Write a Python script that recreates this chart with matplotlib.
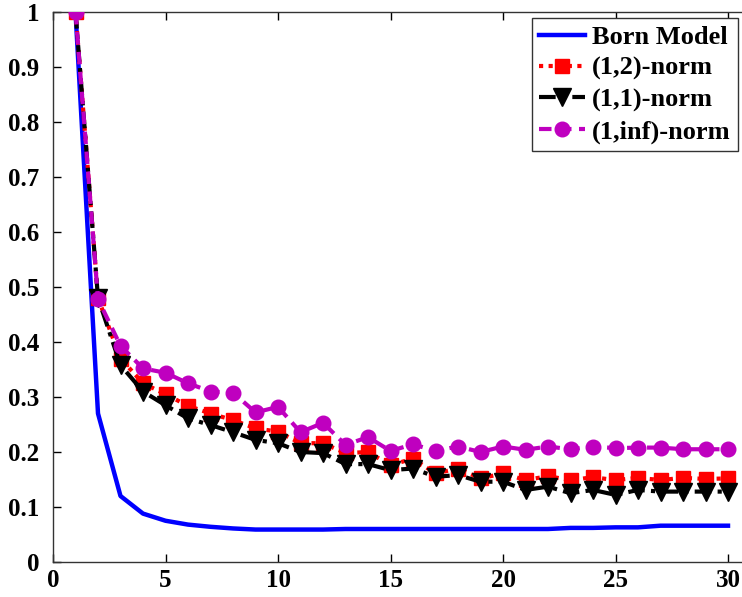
import matplotlib
matplotlib.use("Agg")
import matplotlib.pyplot as plt

iters = list(range(1, 31))
born = [1.0, 0.27, 0.12, 0.088, 0.075, 0.068, 0.064, 0.061, 0.059, 0.059,
        0.059, 0.059, 0.06, 0.06, 0.06, 0.06, 0.06, 0.06, 0.06, 0.06,
        0.06, 0.06, 0.062, 0.062, 0.063, 0.063, 0.066, 0.066, 0.066, 0.066]
norm12 = [1.0, 0.48, 0.37, 0.325, 0.305, 0.284, 0.27, 0.258, 0.243, 0.237,
          0.216, 0.216, 0.198, 0.2, 0.176, 0.188, 0.161, 0.17, 0.152, 0.161,
          0.149, 0.156, 0.149, 0.154, 0.149, 0.153, 0.149, 0.153, 0.151, 0.152]
norm11 = [1.0, 0.48, 0.358, 0.31, 0.285, 0.261, 0.249, 0.236, 0.222, 0.216,
          0.2, 0.198, 0.178, 0.178, 0.167, 0.17, 0.155, 0.158, 0.146, 0.146,
          0.131, 0.137, 0.125, 0.131, 0.122, 0.131, 0.128, 0.128, 0.128, 0.128]
norminf = [1.0, 0.478, 0.393, 0.352, 0.344, 0.325, 0.31, 0.308, 0.272, 0.282,
           0.236, 0.253, 0.213, 0.227, 0.202, 0.214, 0.202, 0.21, 0.2, 0.21,
           0.204, 0.21, 0.205, 0.21, 0.207, 0.208, 0.208, 0.205, 0.205, 0.205]
labels = ["Born Model", "(1,2)-norm", "(1,1)-norm", "(1,inf)-norm"]
xticks = [0, 5, 10, 15, 20, 25, 30]
yticks = [0, 0.1, 0.2, 0.3, 0.4, 0.5, 0.6, 0.7, 0.8, 0.9, 1]
yticklabels = ["0", "0.1", "0.2", "0.3", "0.4", "0.5", "0.6", "0.7", "0.8", "0.9", "1"]

plt.rcParams['font.family'] = ['Liberation Serif', 'DejaVu Serif']
plt.rcParams['font.weight'] = 'bold'

fig = plt.figure(figsize=(7.42, 5.97), dpi=100)
ax = fig.add_axes([53/742, 35/597, 697.5/742, 550/597])

mag = '#bf00bf'
ax.plot(iters, born, color='#0000ff', lw=3.2, label=labels[0], zorder=2)
ax.plot(iters, norm12, color='#ff0000', lw=3, ls=(0, (1, 1.3)), marker='s',
        ms=10.5, mec='#ff0000', mfc='#ff0000', label=labels[1], zorder=3)
ax.plot(iters, norm11, color='black', lw=3, ls=(0, (4, 1.5, 1, 1.5)), marker='v',
        ms=13, mec='black', mfc='black', label=labels[2], zorder=4)
ax.plot(iters, norminf, color=mag, lw=3, ls=(0, (3, 1.8)), marker='o',
        ms=10.5, mec=mag, mfc=mag, label=labels[3], zorder=5)

ax.set_xlim(0, 31)
ax.set_ylim(0, 1)
ax.set_xticks(xticks)
ax.set_yticks(yticks)
ax.set_yticklabels(yticklabels)
ax.tick_params(direction='in', length=6, width=1, top=True, right=True,
               labelsize=18)
ax.tick_params(axis='y', pad=10)
ax.tick_params(axis='x', pad=5)
for lab in ax.get_xticklabels() + ax.get_yticklabels():
    lab.set_fontweight('bold')
for sp in ax.spines.values():
    sp.set_linewidth(1)
    sp.set_color('#333333')

leg = ax.legend(loc='upper right', bbox_to_anchor=(738/742, 1 - 18/597),
                bbox_transform=fig.transFigure, borderaxespad=0,
                fancybox=False, framealpha=1, edgecolor='#333333',
                prop={'family': 'Liberation Serif', 'weight': 'bold', 'size': 19},
                handlelength=1.75, handletextpad=0.25, labelspacing=0.29,
                borderpad=0.28, markerscale=1.0)
leg.get_frame().set_linewidth(1)

fig.savefig("out.png", dpi=100)
